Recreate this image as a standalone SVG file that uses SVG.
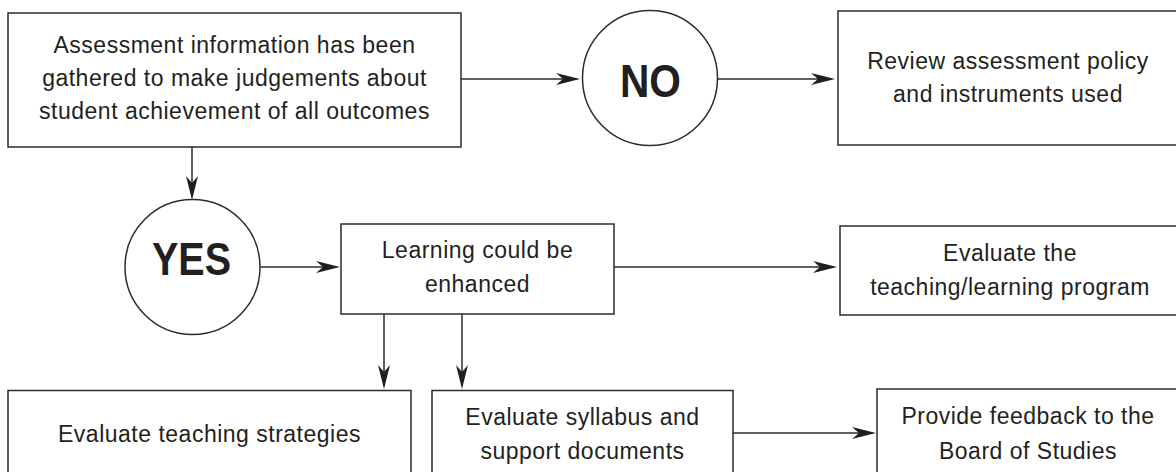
<svg xmlns="http://www.w3.org/2000/svg" width="1176" height="472" viewBox="0 0 1176 472">
  <style>
    .box { fill: #ffffff; stroke: #2b2b2b; stroke-width: 1.5; }
    .ring { fill: #ffffff; stroke: #2b2b2b; stroke-width: 1.5; }
    .lbl { font-family: "Liberation Sans", Arial, sans-serif; font-size: 23px; letter-spacing: 0.5px; fill: #231f20; text-anchor: middle; }
    .big { font-family: "Liberation Sans", Arial, sans-serif; font-size: 46px; font-weight: bold; fill: #231f20; text-anchor: middle; }
    .edge { fill: none; stroke: #2b2b2b; stroke-width: 1.5; marker-end: url(#head); }
  </style>
  <defs>
    <marker id="head" viewBox="0 0 24 12" markerWidth="24" markerHeight="12" markerUnits="userSpaceOnUse" refX="21" refY="6" orient="auto">
      <path d="M0,0 L24,6 L0,12 L7,6 Z" fill="#231f20"/>
    </marker>
  </defs>
  <rect width="1176" height="472" fill="#ffffff"/>

  <g id="connectors">
    <path class="edge" d="M461,79 H577"/>
    <path class="edge" d="M718,79 H832"/>
    <path class="edge" d="M192,147 V197"/>
    <path class="edge" d="M260,267 H337"/>
    <path class="edge" d="M614,267 H834"/>
    <path class="edge" d="M384,314 V386"/>
    <path class="edge" d="M462,314 V386"/>
    <path class="edge" d="M733,433 H873"/>
  </g>

  <g id="gathered">
    <rect class="box" x="8" y="13" width="453" height="134"/>
    <text class="lbl" x="234.5" y="53">Assessment information has been</text>
    <text class="lbl" x="234.5" y="86">gathered to make judgements about</text>
    <text class="lbl" x="234.5" y="119">student achievement of all outcomes</text>
  </g>

  <g id="no">
    <circle class="ring" cx="650" cy="78" r="67.5"/>
    <text class="big" x="650.5" y="97" textLength="61" lengthAdjust="spacingAndGlyphs">NO</text>
  </g>

  <g id="review">
    <rect class="box" x="838" y="11" width="360" height="134"/>
    <text class="lbl" x="1008" y="68.5">Review assessment policy</text>
    <text class="lbl" x="1008" y="101.5">and instruments used</text>
  </g>

  <g id="yes">
    <circle class="ring" cx="192.5" cy="267" r="67.5"/>
    <text class="big" x="191.5" y="275" textLength="79" lengthAdjust="spacingAndGlyphs">YES</text>
  </g>

  <g id="enhanced">
    <rect class="box" x="341" y="224" width="273" height="90"/>
    <text class="lbl" x="477.5" y="257.5">Learning could be</text>
    <text class="lbl" x="477.5" y="291.5">enhanced</text>
  </g>

  <g id="program">
    <rect class="box" x="840" y="226" width="360" height="89"/>
    <text class="lbl" x="1010" y="261">Evaluate the</text>
    <text class="lbl" x="1010" y="295">teaching/learning program</text>
  </g>

  <g id="strategies">
    <rect class="box" x="8" y="390.5" width="403" height="100"/>
    <text class="lbl" x="209.5" y="441.5">Evaluate teaching strategies</text>
  </g>

  <g id="syllabus">
    <rect class="box" x="432" y="390.5" width="301" height="100"/>
    <text class="lbl" x="582.5" y="425">Evaluate syllabus and</text>
    <text class="lbl" x="582.5" y="458.5">support documents</text>
  </g>

  <g id="feedback">
    <rect class="box" x="877" y="389" width="320" height="100"/>
    <text class="lbl" x="1028" y="423.5">Provide feedback to the</text>
    <text class="lbl" x="1028" y="458.5">Board of Studies</text>
  </g>
</svg>
